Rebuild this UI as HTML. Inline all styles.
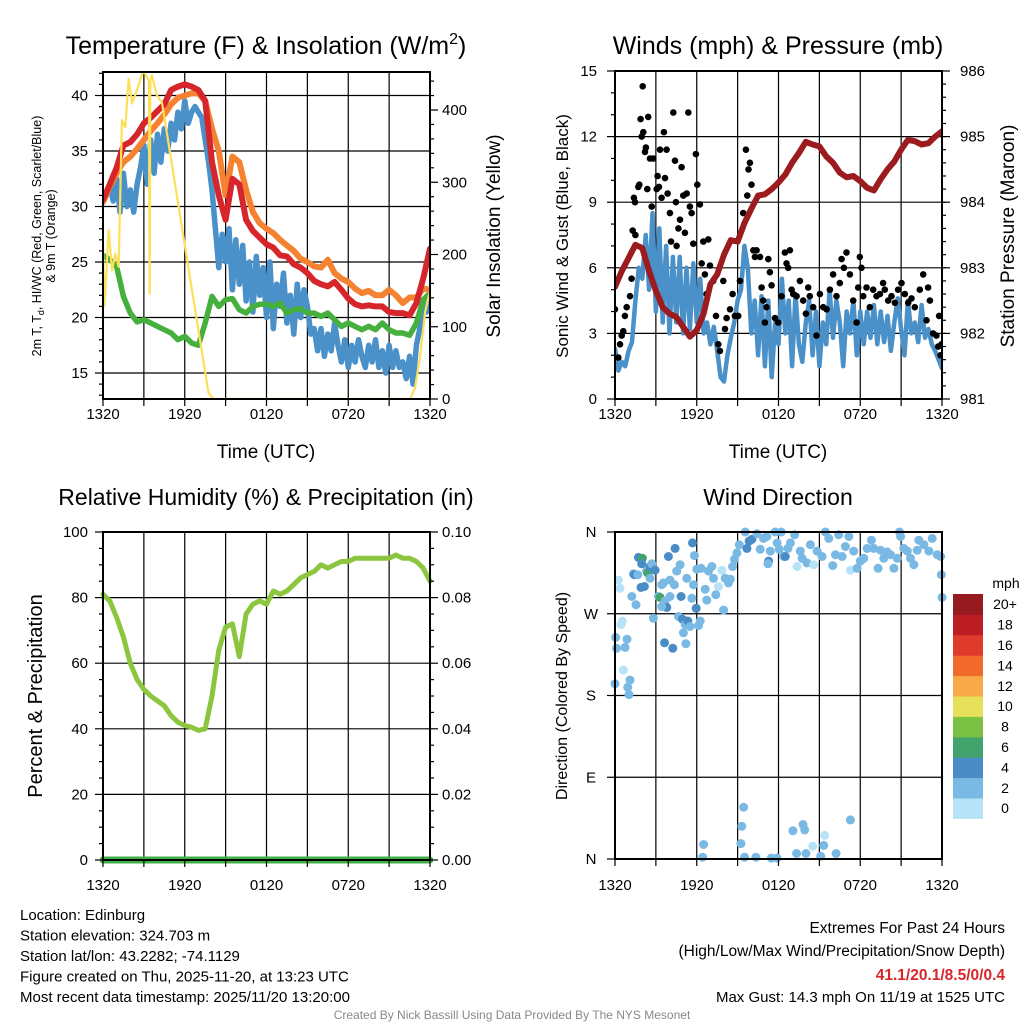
<!DOCTYPE html>
<html><head><meta charset="utf-8">
<style>
html,body{margin:0;padding:0;background:#fff;}
svg text{font-family:"Liberation Sans",Arial,sans-serif;fill:#000;}
</style></head>
<body>
<svg id="c" xmlns="http://www.w3.org/2000/svg" width="1024" height="1024" viewBox="0 0 1024 1024"></svg>
<script>
// ---------- DATA ----------
const halfHours = []; for (let i = 0; i <= 48; i++) halfHours.push(i * 0.5);
const quarterHours = []; for (let i = 0; i <= 96; i++) quarterHours.push(i * 0.25);
const timeTickLabels = ["1320","1920","0120","0720","1320"];
const tempTickLabels = [15,20,25,30,35,40];
const solarTickLabels = [0,100,200,300,400];
const windTickLabels = [0,3,6,9,12,15];
const pressTickLabels = [981,982,983,984,985,986];
const rhTickLabels = [0,20,40,60,80,100];
const precipTickLabels = ["0.00","0.02","0.04","0.06","0.08","0.10"];
const dirTickLabels = ["N","E","S","W","N"];
const speedBins = ["0","2","4","6","8","10","12","14","16","18","20+"];

const temp2m = [30.6,32,33.5,35.5,35.8,36.5,37.5,38,38.6,39.2,40.5,40.8,41,40.8,40.5,39.5,34,31,28.8,32.5,32,28.8,27.8,27.2,26.6,26.3,25.6,25.5,24.8,24.5,24,23.3,23,22.8,23.2,22.5,21.7,21.2,21,21.1,21,21,20.5,20.4,20.4,20.2,21.3,23.5,26.2];
const temp9m = [30.4,31.8,33,34,34.5,35.2,36,36.8,37.5,38.3,39.2,39.8,40,40.2,40.2,39.5,37,35,31,34.5,34,31.5,29.5,28.5,28,27.6,27,26.5,26,25.3,25,24.6,24.5,25.2,24,23.5,23.2,22.6,22.2,22.4,22,22,22.5,22,21.3,21.8,21.8,22.6,22.5];
const dewpoint = [25.6,25.2,24.6,21.9,20.4,19.6,19.8,19.5,19.2,18.9,18.6,18,18.3,17.7,17.5,19.5,21.9,21,21.6,21.7,20.7,20.4,21,21.2,21.2,21,21.3,20.4,20.7,20.8,20.4,20.4,20.1,20.4,19.8,19.2,19.5,19.2,18.9,19.2,18.9,19.5,18.9,18.6,18.6,18.4,19.5,21.6,22.2];
const heatIndex = [30.4,31,32,30.5,32.5,29.5,33,30,31.5,29.5,32,33.5,35.5,32,36,33,36.5,34,37,35,37.5,36,38.5,37,39.5,37.5,38.5,39,38.5,38,36,34,31.5,28,24.5,27.5,25,28,22.5,27,23,26.5,21.5,25,20.5,25.5,22,24.5,20,25,19,23,21,24,19.5,22,18.5,23,20,22.5,21,18.5,19,17,19,16.5,18.5,17,19.5,17.5,16,18,15.5,17.5,16,18,16.5,15.5,17.5,16,18,15.5,17,15,17.5,15.5,17,15.5,16,14.5,16.5,14,17.5,19,21.5,20.5,22];
const solarTimes = [0,0.1,0.42,0.66,0.9,1.15,1.39,1.64,1.88,2.13,2.49,2.86,3.03,3.23,3.37,3.42,3.47,3.59,3.96,4.33,5.18,6.4,7.38,7.75,8.12,22.54,22.9,23.28,23.64,24];
const solarValues = [215,128,234,178,201,183,386,376,443,409,427,450,452,445,440,146,440,448,420,410,310,166,51,8,0,0,15,60,120,150];

const pressure = [982.71,982.95,983.15,983.35,983.3,982.95,982.65,982.4,982.3,982.25,982.1,981.95,982.05,982.3,982.75,982.9,983.2,983.42,983.4,983.68,983.9,984.1,984.12,984.2,984.3,984.42,984.6,984.75,984.92,984.88,984.85,984.7,984.6,984.45,984.38,984.4,984.32,984.22,984.18,984.35,984.5,984.62,984.8,984.95,984.93,984.88,984.9,985.0,985.08];
const sonicWind = [2.3,1.3,1.7,1.5,2.2,2.6,4.5,6,5.5,7.5,5,8.5,4,7.8,3.5,7,3,6.5,3.5,6.5,3,6,3.2,6.2,3.5,5.5,3,3.5,2.5,3.3,2.2,1,0.8,2,2.8,3.5,4.5,5,7,6,3,4.5,2,4.7,1.5,4.5,1,3.5,2.5,5.5,3,4.5,1.5,4.8,2.5,1.7,3.5,4.5,2,4,1.5,3.5,2.5,5,2.8,4.5,3.5,1.5,4,3,4.5,2,4,2.5,4,2.8,4.3,2.5,4,2.6,3.8,2.2,3.5,4.6,3.2,2,4.5,3,3.5,2.6,4.3,2.8,3.2,2.5,2.2,1.8,1.4];
const gustTimes = [0,0.24,0.37,0.49,0.61,0.73,0.86,1.1,1.22,1.3,1.5,1.39,1.47,1.71,1.78,1.88,1.96,2.03,2.08,2.2,2.27,2.37,2.44,2.57,2.69,2.81,3.06,3.13,3.23,3.3,3.42,3.59,3.67,3.79,3.86,4.03,4.11,4.28,4.4,4.47,4.52,4.65,4.77,4.89,5.01,5.13,5.26,5.38,5.5,5.62,5.75,5.94,6.04,6.23,6.36,6.48,6.6,6.72,6.85,6.97,7.21,7.41,7.58,7.7,7.95,8.07,8.19,8.44,8.63,8.8,9.05,9.17,9.41,9.61,9.71,9.8,9.9,10.02,10.15,10.27,10.39,10.64,10.76,10.88,11,11.12,11.25,11.37,11.49,11.74,11.98,12.22,12.47,12.59,12.71,12.84,12.96,13.08,13.33,13.57,13.81,14.01,14.18,14.3,14.55,14.79,15.04,15.28,15.53,15.77,16.01,16.26,16.5,16.63,16.8,16.99,17.24,17.48,17.73,17.85,17.97,18.09,18.22,18.46,18.7,18.95,19.19,19.44,19.68,19.8,20.05,20.29,20.54,20.78,21.03,21.27,21.52,21.76,22,22.37,22.62,22.86,22.98,23.11,23.35,23.59,23.72,23.79,23.89,23.96];
const gustValues = [4.1,1.9,2.5,2.9,3.1,3.8,4.2,4.7,5.5,7.7,7.5,9.2,9,9.7,9.8,12.8,12,14.3,12.2,11.3,11.5,9.6,12.9,11,8.8,11,9.6,10.2,9.7,11.4,9.2,12.2,10.1,11.4,9.4,8.5,7.2,13.1,10.9,9,7,7.8,8.2,10.6,9.3,7.6,9.4,13.1,8.8,8.5,7.1,11.2,9.8,8.9,6.2,7.2,5.7,4.8,7.3,6.1,5.4,3.8,2.5,2.2,5.4,3.2,3.7,4.1,4.8,3.8,3.8,5.4,8.5,11.4,9.3,10.5,10.8,9.8,6.8,6.5,6.8,6.5,5.1,4.5,3.5,4.2,6.4,5.8,5.2,3.7,3.5,4.7,6.7,6.2,6,6.8,5,4.8,4.7,5.4,4.5,3.9,5.1,4.7,4.2,2.9,4.8,4.2,4.1,5,5.7,4.7,5.3,6.4,6,6.7,5.7,4.5,3.5,5.1,6.5,6,4.7,5.1,4.2,5,4.7,4.8,5.3,5,4.5,4.7,4.4,5,5.3,4.8,4.4,4.6,4.2,5,5.7,3.6,5.1,4.5,3,2.9,2.4,3.8,2,2.5];

const relHum = [81,79,74,68,60,55,52,50,48.5,47,44,42,41,40.5,39.5,40,50,64,71,72,62,75,78,79,78,82,81,82,84,86,87,88,90,89,90,91,91,92,92,92,92,92,92,93,92,92,91,89,85];
const precip = [0,0,0,0,0,0,0,0,0,0,0,0,0,0,0,0,0,0,0,0,0,0,0,0,0,0,0,0,0,0,0,0,0,0,0,0,0,0,0,0,0,0,0,0,0,0,0,0,0];

const dirTimes = [0.25,0.37,0.54,0.44,0.05,0.12,0.74,0.88,0.61,0,1.1,0.93,1.03,1.23,1.54,1.35,1.42,1.72,2.01,1.96,1.67,1.91,2.16,2.33,2.4,2.57,2.7,2.94,2.57,2.82,3.19,3.31,3.43,3.55,3.68,3.8,3.43,3.92,4.04,4.04,4.41,4.36,4.53,4.78,4.66,4.85,4.95,5.15,5.34,5.51,5.02,5.2,3.63,4.24,5.27,5.64,5.76,5.69,5.83,5.96,6.13,6.25,6,6.32,6.62,6.74,6.86,7.11,7.23,7.4,7.6,7.84,7.97,8.09,8.33,8.46,8.63,8.77,8.95,9.12,9.56,9.68,9.85,10.05,10.42,10.66,10.9,11.15,11.27,11.23,11.4,11.76,11.9,12.06,12.2,12.38,12.5,12.7,12.87,13.19,13.36,13.6,13.73,14.09,14.34,14.58,14.83,15.2,15.44,15.69,15.98,16.18,16.42,16.67,16.91,17.16,17.28,17.52,17.77,18.01,18.26,18.5,18.82,18.99,19.31,19.49,19.73,19.98,20.22,20.47,20.71,20.88,20.96,21.2,21.45,21.69,21.94,22.18,22.3,22.67,23.04,23.28,23.65,23.9,23.95,24,6.5,6.44,9.44,9.31,9.24,9.51,10.34,11.47,11.89,13.06,13.8,13.92,13.33,14.02,14.51,15.1,15.39,15.32,16.23,17.28];
const dirValues = [307,298,262,258,244,232,233,242,208,193,197,189,181,289,280,314,313,332,331,325,313,299,300,317,315,322,325,318,309,265,289,288,302,304,284,277,278,333,307,289,342,302,317,324,267,289,264,258,262,256,249,237,238,232,309,287,302,348,334,276,257,262,319,320,297,285,317,322,309,291,300,318,274,309,304,308,322,330,337,346,360,342,350,352,358,341,353,355,328,325,339,360,348,341,360,333,333,342,348,357,322,339,331,326,346,324,339,333,360,353,323,335,357,333,344,355,318,339,320,328,331,342,351,342,320,340,331,338,335,320,331,360,355,342,339,331,324,340,351,346,339,353,335,333,313,288,16,2,57,36,17,2,2,1,1,31,38,32,6,6,14,3,26,15,6,43];
const dirSpeeds = [0.5,0.5,0.5,0.5,2,3.5,2,2,0.5,2,2,2,2,2,3.5,3.5,5.5,5.5,7,5.5,3.5,5.5,5.5,3.5,7,5.5,3.5,5.5,3.5,3.5,3.5,7,3.5,3.5,3.5,5.5,3.5,5.5,2,2,5.5,3.5,3.5,3.5,2,5.5,5.5,3.5,5.5,3.5,2,2,5.5,5.5,3.5,3.5,2,5.5,2,5.5,3.5,2,3.5,3.5,2,3.5,3.5,2,2,2,0.5,0.5,2,2,2,2,3.5,3.5,2,2,2,5.5,5.5,5.5,3.5,3.5,2,2,5.5,2,3.5,2,2,3.5,2,2,5.5,3.5,3.5,2,0.5,3.5,2,3.5,3.5,0.5,2,2,2,2,3.5,2,2,3.5,3.5,2,0.5,2,2,3.5,3.5,2,2,3.5,3.5,3.5,3.5,3.5,3.5,2,3.5,2,2,3.5,3.5,3.5,2,3.5,2,3.5,3.5,2,2,3.5,2,2,2,3.5,3.5,2,2,3.5,2,2,2,2,2,2,2,2,0.5,2,0.5,2,2,2,2,0.5];

// ---------- DRAWING ----------
const svg = document.getElementById('c');
const NS = 'http://www.w3.org/2000/svg';
const TICK_FS = 15, TITLE_FS = 25;
function mk(tag, attrs, parent) {
  const e = document.createElementNS(NS, tag);
  for (const k in attrs) e.setAttribute(k, attrs[k]);
  (parent || svg).appendChild(e);
  return e;
}
function txt(s, x, y, size, anchor, parent, extra) {
  const t = mk('text', Object.assign({x: x, y: y, 'font-size': size, 'text-anchor': anchor || 'middle'}, extra || {}), parent);
  t.textContent = s;
  return t;
}
function lin(d0, d1, r0, r1) { return v => r0 + (v - d0) / (d1 - d0) * (r1 - r0); }
const binColors = ["#b6e3f8","#7ab9e4","#4a8dc6","#42a46c","#7bc244","#e6e05a","#f8a94a","#f16a2c","#df3a2c","#bd1d24","#961a1f"];
function speedColor(s) { let i = Math.floor(s / 2); if (i > 10) i = 10; return binColors[i]; }

function frame(name, x0, x1, y0, y1, hLines, vLines) {
  const g = mk('g', {}, svg);
  
  
  hLines.forEach(y => mk('line', {x1: x0, x2: x1, y1: y, y2: y, stroke: '#000', 'stroke-width': 1.2}, g));
  vLines.forEach(x => mk('line', {x1: x, x2: x, y1: y0, y2: y1, stroke: '#000', 'stroke-width': 1.2}, g));
  return g;
}
function border(name, x0, x1, y0, y1) {
  const r = mk('rect', {x: x0, y: y0, width: x1 - x0, height: y1 - y0, fill: 'none', stroke: '#000', 'stroke-width': 2});
  
  
}
function polyline(name, xs, ys, sx, sy, color, w, parent) {
  const pts = xs.map((t, i) => sx(t).toFixed(1) + ',' + sy(ys[i]).toFixed(1)).join(' ');
  const p = mk('polyline', {points: pts, fill: 'none', stroke: color, 'stroke-width': w, 'stroke-linejoin': 'round', 'stroke-linecap': 'round'}, parent);
  
  
  return p;
}
function ticksLeft(x, ys, len) { ys.forEach(y => mk('line', {x1: x - len, x2: x, y1: y, y2: y, stroke: '#000', 'stroke-width': 1.2})); }
function ticksRight(x, ys, len) { ys.forEach(y => mk('line', {x1: x, x2: x + len, y1: y, y2: y, stroke: '#000', 'stroke-width': 1.2})); }
function ticksBottom(y, xs, len) { xs.forEach(x => mk('line', {x1: x, x2: x, y1: y, y2: y + len, stroke: '#000', 'stroke-width': 1.2})); }
function hourLines(x0, x1) { const a = []; for (let h = 3; h < 24; h += 3) a.push(x0 + h / 24 * (x1 - x0)); return a; }

// ===== Panel 1: Temperature =====
(function () {
  const X0 = 103, X1 = 430, Y0 = 72, Y1 = 399;
  const sx = lin(0, 24, X0, X1);
  const sy = lin(40, 15, 95.5, 373);
  const ss = lin(0, 400, 399, 110);
  frame('temp-panel', X0, X1, Y0, Y1, tempTickLabels.map(sy), hourLines(X0, X1));
  const clip = mk('clipPath', {id: 'cp1'}); mk('rect', {x: X0, y: Y0, width: X1 - X0, height: Y1 - Y0}, clip);
  const g = mk('g', {'clip-path': 'url(#cp1)'});
  polyline('heat-index-wind-chill-line', quarterHours, heatIndex, sx, sy, '#4a90c9', 5.5, g);
  polyline('dewpoint-line', halfHours, dewpoint, sx, sy, '#46b03f', 5.5, g);
  polyline('temp-9m-line', halfHours, temp9m, sx, sy, '#f58230', 6, g);
  polyline('temp-2m-line', halfHours, temp2m, sx, sy, '#d7262b', 6, g);
  polyline('solar-insolation-line', solarTimes, solarValues, sx, ss, '#fde05a', 2.2, g);
  border('temp-panel', X0, X1, Y0, Y1);
  ticksLeft(X0, tempTickLabels.map(sy), 8);
  const minor = []; for (let v = 13; v <= 42; v++) if (v % 5) minor.push(sy(v)); ticksLeft(X0, minor, 4);
  tempTickLabels.forEach(v => { const t = txt(String(v), 88, sy(v) + 5, TICK_FS, 'end');   });
  ticksRight(X1, solarTickLabels.map(ss), 8);
  const sm = []; for (let v = 20; v <= 440; v += 20) if (v % 100) sm.push(ss(v)); ticksRight(X1, sm, 4);
  solarTickLabels.forEach(v => { const t = txt(String(v), 442, ss(v) + 5, TICK_FS, 'start');   });
  const xt = []; for (let h = 0; h <= 24; h += 3) xt.push(sx(h)); ticksBottom(Y1, xt, 7);
  timeTickLabels.forEach((s, i) => { const t = txt(s, sx(i * 6), 419, TICK_FS, 'middle');   });
  const xl = txt('Time (UTC)', 266, 458, 19);  
  const tt = mk('text', {x: 266, y: 54, 'font-size': TITLE_FS, 'text-anchor': 'middle'});
   
  tt.innerHTML = 'Temperature (F) &amp; Insolation (W/m<tspan dy="-10" font-size="16">2</tspan><tspan dy="10">)</tspan>';
  const yl = mk('text', {x: 0, y: 0, 'font-size': 12.5, 'text-anchor': 'middle', transform: 'translate(41,236) rotate(-90)'});
   
  yl.innerHTML = '2m T, T<tspan dy="3" font-size="9">d</tspan><tspan dy="-3">, HI/WC (Red, Green, Scarlet/Blue)</tspan>';
  const yl2 = txt('& 9m T (Orange)', 0, 0, 12.5, 'middle', svg, {transform: 'translate(55,236) rotate(-90)'});
   
  const yr = txt('Solar Insolation (Yellow)', 0, 0, 19, 'middle', svg, {transform: 'translate(500,236) rotate(-90)'});
   
})();

// ===== Panel 2: Winds =====
(function () {
  const X0 = 615, X1 = 942, Y0 = 71, Y1 = 399;
  const sx = lin(0, 24, X0, X1);
  const sw = lin(0, 15, Y1, Y0);
  const sp = lin(981, 986, Y1, Y0);
  frame('wind-panel', X0, X1, Y0, Y1, windTickLabels.map(sw), hourLines(X0, X1));
  const clip = mk('clipPath', {id: 'cp2'}); mk('rect', {x: X0, y: Y0, width: X1 - X0, height: Y1 - Y0}, clip);
  const g = mk('g', {'clip-path': 'url(#cp2)'});
  polyline('sonic-wind-line', quarterHours, sonicWind, sx, sw, '#4a90c9', 4.5, g);
  gustTimes.forEach((t, i) => {
    const c = mk('circle', {cx: sx(t).toFixed(1), cy: sw(gustValues[i]).toFixed(1), r: 3.3, fill: '#000'}, g);
    
    
  });
  polyline('pressure-line', halfHours, pressure, sx, sp, '#9b1b1e', 6, g);
  border('wind-panel', X0, X1, Y0, Y1);
  ticksLeft(X0, windTickLabels.map(sw), 8);
  const wm = []; for (let v = 1; v < 15; v++) if (v % 3) wm.push(sw(v)); ticksLeft(X0, wm, 4);
  windTickLabels.forEach(v => { const t = txt(String(v), 597, sw(v) + 5, TICK_FS, 'end');   });
  ticksRight(X1, pressTickLabels.map(sp), 8);
  const pm = []; for (let v = 981.2; v < 986; v += 0.2) pm.push(sp(v)); ticksRight(X1, pm, 4);
  pressTickLabels.forEach(v => { const t = txt(String(v), 960, sp(v) + 5, TICK_FS, 'start');   });
  const xt = []; for (let h = 0; h <= 24; h += 3) xt.push(sx(h)); ticksBottom(Y1, xt, 7);
  timeTickLabels.forEach((s, i) => { const t = txt(s, sx(i * 6), 419, TICK_FS, 'middle');   });
  const xl = txt('Time (UTC)', 778, 458, 19);  
  const tt = txt('Winds (mph) & Pressure (mb)', 778, 54, TITLE_FS);  
  const yl = txt('Sonic Wind & Gust (Blue, Black)', 0, 0, 17, 'middle', svg, {transform: 'translate(568,236) rotate(-90)'});
   
  const yr = txt('Station Pressure (Maroon)', 0, 0, 19, 'middle', svg, {transform: 'translate(1014,236) rotate(-90)'});
   
})();

// ===== Panel 3: RH =====
(function () {
  const X0 = 103, X1 = 430, Y0 = 532, Y1 = 860;
  const sx = lin(0, 24, X0, X1);
  const sy = lin(0, 100, Y1, Y0);
  const sq = lin(0, 0.1, Y1, Y0);
  frame('rh-panel', X0, X1, Y0, Y1, rhTickLabels.map(sy), hourLines(X0, X1));
  const clip = mk('clipPath', {id: 'cp3'}); mk('rect', {x: X0 - 3, y: Y0, width: X1 - X0 + 6, height: Y1 - Y0 + 4}, clip);
  const g = mk('g', {'clip-path': 'url(#cp3)'});
  polyline('relative-humidity-line', halfHours, relHum, sx, sy, '#8cc63f', 5, g);
  polyline('precipitation-line', halfHours, precip, sx, sq, '#3fae49', 7, g);
  border('rh-panel', X0, X1, Y0, Y1);
  ticksLeft(X0, rhTickLabels.map(sy), 8);
  const m = []; for (let v = 5; v < 100; v += 5) if (v % 20) m.push(sy(v)); ticksLeft(X0, m, 4);
  rhTickLabels.forEach(v => { const t = txt(String(v), 88, sy(v) + 5, TICK_FS, 'end');   });
  ticksRight(X1, rhTickLabels.map(sy), 8); ticksRight(X1, m, 4);
  precipTickLabels.forEach((s, i) => { const t = txt(s, 442, sq(parseFloat(s)) + 5, TICK_FS, 'start');   });
  const xt = []; for (let h = 0; h <= 24; h += 3) xt.push(sx(h)); ticksBottom(Y1, xt, 7);
  timeTickLabels.forEach((s, i) => { const t = txt(s, sx(i * 6), 890, TICK_FS, 'middle');   });
  const tt = txt('Relative Humidity (%) & Precipitation (in)', 266, 505, 23);  
  const yl = txt('Percent & Precipitation', 0, 0, 20, 'middle', svg, {transform: 'translate(42,696) rotate(-90)'});
   
})();

// ===== Panel 4: Wind direction =====
(function () {
  const X0 = 615, X1 = 942, Y0 = 532, Y1 = 859;
  const sx = lin(0, 24, X0, X1);
  const sd = lin(0, 360, Y1, Y0);
  frame('direction-panel', X0, X1, Y0, Y1, [90, 180, 270, 360].map(sd), hourLines(X0, X1));
  dirTimes.forEach((t, i) => {
    const c = mk('circle', {cx: sx(t).toFixed(1), cy: sd(dirValues[i]).toFixed(1), r: 4.5, fill: speedColor(dirSpeeds[i])});
    
    
  });
  border('direction-panel', X0, X1, Y0, Y1);
  const dv = [0, 90, 180, 270, 360];
  ticksLeft(X0, dv.map(sd), 8);
  dirTickLabels.forEach((s, i) => { const t = txt(s, 591, sd(dv[i]) + 5, TICK_FS, 'middle');   });
  const xt = []; for (let h = 0; h <= 24; h += 3) xt.push(sx(h)); ticksBottom(Y1, xt, 7);
  timeTickLabels.forEach((s, i) => { const t = txt(s, sx(i * 6), 890, TICK_FS, 'middle');   });
  const tt = txt('Wind Direction', 778, 505, 23);  
  const yl = txt('Direction (Colored By Speed)', 0, 0, 16, 'middle', svg, {transform: 'translate(567,696) rotate(-90)'});
   
  const bh = 20.4, top = 594;
  speedBins.forEach((s, i) => {
    const y = top + (10 - i) * bh;
    const r = mk('rect', {x: 953, y: y, width: 30, height: bh + 0.5, fill: binColors[i]});
    
    
    const t = txt(s, 1005, y + bh / 2 + 5, 14, 'middle');
    
    
  });
  const u = txt('mph', 1006, 588, 14, 'middle');  
})();

// ===== Footer text =====
(function () {
  const left = ["Location: Edinburg","Station elevation: 324.703 m","Station lat/lon: 43.2282; -74.1129","Figure created on Thu, 2025-11-20, at 13:23 UTC","Most recent data timestamp: 2025/11/20 13:20:00"];
  left.forEach((s, i) => { const t = txt(s, 20, 920 + i * 20.5, 15, 'start');   });
  const a = txt('Extremes For Past 24 Hours', 1005, 933, 15.5, 'end');  
  const b = txt('(High/Low/Max Wind/Precipitation/Snow Depth)', 1005, 956, 15.5, 'end');  
  const c = txt('41.1/20.1/8.5/0/0.4', 1005, 980, 15.5, 'end', svg, {'font-weight': 'bold', style: 'fill:#d7262b'});  
  const d = txt('Max Gust: 14.3 mph On 11/19 at 1525 UTC', 1005, 1002, 15, 'end');  
  const e = txt('Created By Nick Bassill Using Data Provided By The NYS Mesonet', 512, 1019, 12, 'middle', svg, {style: 'fill:#888'});  
})();
</script>
</body></html>
